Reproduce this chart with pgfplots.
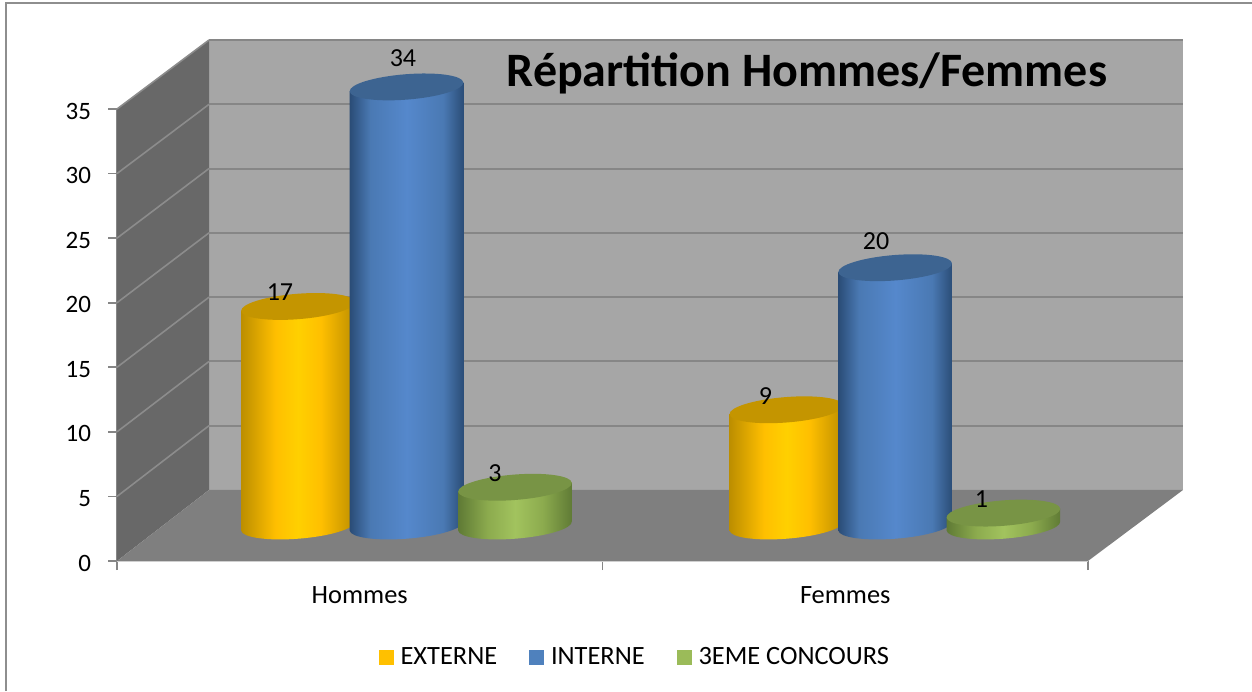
\documentclass[border=0pt]{standalone}
\usepackage{fontspec}
\setmainfont{Carlito}
\usepackage{pgfplots}
\usepackage{pgfplotstable}
\pgfplotsset{compat=1.18}

% 1 px of the reference = 0.5pt here
\definecolor{wallback}{HTML}{A6A6A6}
\definecolor{wallside}{HTML}{686868}
\definecolor{wallfloor}{HTML}{7F7F7F}
\definecolor{gridback}{HTML}{868686}
\definecolor{gridside}{HTML}{8C8C8C}
\definecolor{frame}{HTML}{8E8E8E}

\definecolor{Eedge}{HTML}{BC8E00}\definecolor{Eside}{HTML}{FFBF00}\definecolor{Emid}{HTML}{FFD000}\definecolor{Etop}{HTML}{C49500}
\definecolor{Iedge}{HTML}{2A4C76}\definecolor{Iside}{HTML}{4A79B3}\definecolor{Imid}{HTML}{5588CC}\definecolor{Itop}{HTML}{3D6491}
\definecolor{Cedge}{HTML}{5F7A35}\definecolor{Cside}{HTML}{8CAB4E}\definecolor{Cmid}{HTML}{A2C35E}\definecolor{Ctop}{HTML}{789445}
\definecolor{legE}{HTML}{FFC000}\definecolor{legI}{HTML}{4F81BD}\definecolor{legC}{HTML}{9BBB59}

% cylinder drawn as a plot mark, the height comes from the point's y value
% #1 series letter, #2 and #3 where the edge shade ends (bp, shading spans 25..75)
\newcommand\defcyl[3]{%
  \pgfdeclarehorizontalshading{sh#1}{100bp}{color(0bp)=(#1edge); color(25bp)=(#1edge);
    color(#2bp)=(#1side); color(50bp)=(#1mid); color(#3bp)=(#1side); color(75bp)=(#1edge); color(100bp)=(#1edge)}%
  \pgfdeclareplotmark{cyl#1}{%
    \pgfmathsetlengthmacro\hh{\val*6.457pt}%
    \begin{pgfscope}
      \pgfpathmoveto{\pgfqpoint{-28.41pt}{-2.24pt}}%
      \pgfpathlineto{\pgfpoint{-28.41pt}{-2.24pt-\hh}}%
      \pgfpatharcaxes{180}{360}{\pgfqpoint{28.41pt}{2.24pt}}{\pgfqpoint{-0.5pt}{6.33pt}}%
      \pgfpathlineto{\pgfqpoint{28.41pt}{2.24pt}}%
      \pgfpathclose
      \pgfshadepath{sh#1}{0}%
      \pgfusepath{discard}%
    \end{pgfscope}
    \begin{pgfscope}
      \pgfsetfillcolor{#1top}%
      \pgfpathellipse{\pgfpointorigin}{\pgfqpoint{28.41pt}{2.24pt}}{\pgfqpoint{-0.5pt}{6.33pt}}%
      \pgfusepath{fill}%
    \end{pgfscope}
  }}
\defcyl{E}{40}{60}\defcyl{I}{34}{66}\defcyl{C}{38}{62}

\pgfplotstableread{
x     y
0.278 17
1.284 9
}\externe
\pgfplotstableread{
x      y
0.5015 34
1.508  20
}\interne
\pgfplotstableread{
x     y
0.725 3
1.731 1
}\concours

\pgfplotsset{
  cyl/.style={
    scatter, only marks, scatter src=y, forget plot,
    visualization depends on={y \as \val},
  },
  % value label of one point, moved by #1,#2 px from the top of its cylinder
  lab/.style 2 args={
    only marks, mark=none, forget plot, point meta=y,
    nodes near coords,
    nodes near coords style={anchor=center, text=black, font=\fontsize{13}{15}\selectfont,
      xshift=#1*0.5pt, yshift=#2*0.5pt},
  },
}

\begin{document}
\begin{tikzpicture}
\useasboundingbox (0,0) rectangle (626pt,345.5pt);
\draw[frame, line width=1pt] (3pt,0) -- (3pt,344pt) -- (626pt,344pt);

% front plane of the chart: axis, ticks, walls
\begin{axis}[
    at={(58.5pt,65pt)}, anchor=south west,
    scale only axis, width=485.5pt, height=226pt,
    xmin=0, xmax=2, ymin=0, ymax=35,
    clip=false,
    axis lines*=left,
    tick align=outside,
    x axis line style={-, draw=black!14, line width=1pt},
    y axis line style={-, draw=gridback, line width=1pt},
    tick style={draw=gridback, line width=0.9pt},
    major tick length=4.5pt,
    xtick={0,1,2}, xticklabels={},
    extra x ticks={0.5,1.5}, extra x tick labels={Hommes,Femmes},
    extra x tick style={major tick length=0pt,
      tick label style={yshift=-9pt, font=\fontsize{13.2}{15}\selectfont}},
    ytick={0,5,...,35},
    /pgf/number format/assume math mode=true,
    yticklabel style={xshift=-5pt, yshift=-1pt},
    tick label style={font=\fontsize{12.5}{14}\selectfont},
    title={\bfseries Répartition Hommes/Femmes},
    title style={at={(0.7106,1.053)}, anchor=center, font=\fontsize{24}{27}\selectfont},
  ]
  \addplot[fill=wallback, draw=none] coordinates {(0.1895,5.5) (0.1895,40.34) (2.1957,40.34) (2.1957,5.5)} -- cycle;
  \addplot[fill=wallside, draw=none] coordinates {(0,0) (0,35) (0.1895,40.34) (0.1895,5.5)} -- cycle;
  \addplot[fill=wallfloor, draw=none] coordinates {(0,0) (0.1895,5.5) (2.1957,5.5) (2,0)} -- cycle;
  % grid on the side wall, then on the back wall
  \addplot[gridside, line width=0.8pt] coordinates {(0,5) (0.1895,10.48)};
  \addplot[gridside, line width=0.8pt] coordinates {(0,10) (0.1895,15.45)};
  \addplot[gridside, line width=0.8pt] coordinates {(0,15) (0.1895,20.43)};
  \addplot[gridside, line width=0.8pt] coordinates {(0,20) (0.1895,25.41)};
  \addplot[gridside, line width=0.8pt] coordinates {(0,25) (0.1895,30.39)};
  \addplot[gridside, line width=0.8pt] coordinates {(0,30) (0.1895,35.36)};
  \addplot[gridside, line width=0.8pt] coordinates {(0,35) (0.1895,40.34)};
  \addplot[gridback, line width=1pt] coordinates {(0.1895,10.48) (2.1957,10.48)};
  \addplot[gridback, line width=1pt] coordinates {(0.1895,15.45) (2.1957,15.45)};
  \addplot[gridback, line width=1pt] coordinates {(0.1895,20.43) (2.1957,20.43)};
  \addplot[gridback, line width=1pt] coordinates {(0.1895,25.41) (2.1957,25.41)};
  \addplot[gridback, line width=1pt] coordinates {(0.1895,30.39) (2.1957,30.39)};
  \addplot[gridback, line width=1pt] coordinates {(0.1895,35.36) (2.1957,35.36)};
  \addplot[gridback, line width=1pt] coordinates {(0.1895,40.34) (2.1957,40.34)};
\end{axis}

% the cylinders stand half way into the depth: same scales, shifted
\begin{axis}[
    at={(81.5pt,82.5pt)}, anchor=south west,
    scale only axis, width=485.5pt, height=226pt,
    xmin=0, xmax=2, ymin=0, ymax=35,
    clip=false, hide axis,
    /pgf/number format/assume math mode=true,
    legend columns=3,
    legend cell align=left,
    legend style={at={(0.487,-0.29)}, anchor=center, draw=none, fill=none,
      font=\fontsize{13.2}{15}\selectfont,
      /tikz/every even column/.append style={column sep=14pt},
      /tikz/every odd column/.append style={column sep=1.5pt}},
  ]
  \addplot[cyl, mark=cylE] table[x=x,y=y] {\externe};
  \addplot[cyl, mark=cylI] table[x=x,y=y] {\interne};
  \addplot[cyl, mark=cylC] table[x=x,y=y] {\concours};
  \addplot[lab={-18}{14.5}] coordinates {(0.278,17)};
  \addplot[lab={-21}{14}] coordinates {(1.284,9)};
  \addplot[lab={-3.5}{28.5}] coordinates {(0.5015,34)};
  \addplot[lab={-19}{27}] coordinates {(1.508,20)};
  \addplot[lab={-20}{14}] coordinates {(0.725,3)};
  \addplot[lab={-22}{14}] coordinates {(1.731,1)};
  \addlegendimage{legend image code/.code={\fill[legE] (0pt,-3.5pt) rectangle (7pt,3.5pt);}}
  \addlegendentry{EXTERNE}
  \addlegendimage{legend image code/.code={\fill[legI] (0pt,-3.5pt) rectangle (7pt,3.5pt);}}
  \addlegendentry{INTERNE}
  \addlegendimage{legend image code/.code={\fill[legC] (0pt,-3.5pt) rectangle (7pt,3.5pt);}}
  \addlegendentry{3EME CONCOURS}
\end{axis}
\end{tikzpicture}
\end{document}
